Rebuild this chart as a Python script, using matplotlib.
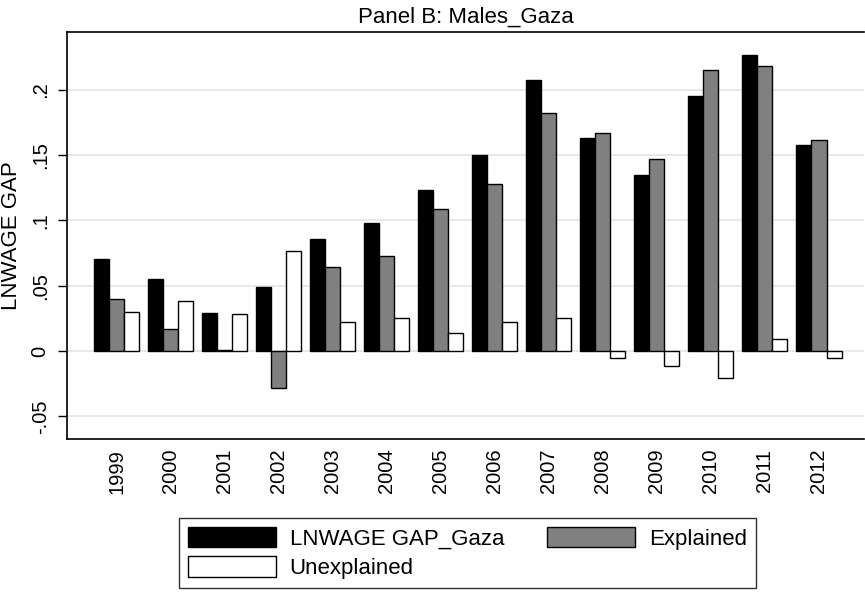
import numpy as np
import matplotlib.pyplot as plt

plt.rcParams['font.family'] = ['Liberation Sans', 'DejaVu Sans']

years = ['1999', '2000', '2001', '2002', '2003', '2004', '2005',
         '2006', '2007', '2008', '2009', '2010', '2011', '2012']
gap = [0.0705, 0.055, 0.029, 0.049, 0.086, 0.098, 0.123,
       0.150, 0.208, 0.163, 0.135, 0.195, 0.227, 0.158]
explained = [0.040, 0.017, 0.001, -0.028, 0.064, 0.073, 0.109,
             0.128, 0.182, 0.167, 0.147, 0.215, 0.218, 0.162]
unexplained = [0.030, 0.038, 0.028, 0.077, 0.022, 0.025, 0.014,
               0.022, 0.025, -0.005, -0.0115, -0.021, 0.009, -0.005]

fig = plt.figure(figsize=(8.65, 5.93), dpi=100)
ax = fig.add_axes([67 / 865, 1 - 439 / 593, (864 - 67) / 865, (439 - 32) / 593])

x = np.arange(len(years))
w = 0.278
ec = dict(edgecolor='black', linewidth=1.0)
b1 = ax.bar(x - w, gap, w, color='black', **ec, zorder=3)
b2 = ax.bar(x, explained, w, color='#808080', **ec, zorder=3)
b3 = ax.bar(x + w, unexplained, w, color='white', **ec, zorder=3)

ax.set_xlim(-0.917, 13.833)
ax.set_ylim(-0.0674, 0.2444)
ax.set_yticks([-0.05, 0, 0.05, 0.1, 0.15, 0.2])
ax.set_yticklabels(['-.05', '0', '.05', '.1', '.15', '.2'], rotation=90, va='center', fontsize=14.5)
ax.set_xticks(x)
ax.set_xticklabels(years, rotation=90, fontsize=14.5)
ax.tick_params(axis='x', length=0, pad=7)
ax.tick_params(axis='y', length=6.5, width=1, pad=6)
ax.grid(axis='y', color='#e4e4e4', linewidth=1.2, zorder=0)
for s in ax.spines.values():
    s.set_linewidth(1.2)
ax.spines['right'].set_visible(False)

ax.set_ylabel('LNWAGE GAP', fontsize=16, labelpad=6)
ax.set_title('Panel B: Males_Gaza', fontsize=16, pad=7)

leg = fig.legend([b1, b3, b2], ['LNWAGE GAP_Gaza', 'Unexplained', 'Explained'],
                 ncol=2, loc='upper center', bbox_to_anchor=(467.5 / 865, 1 - 518 / 593),
                 fontsize=16, frameon=True, fancybox=False, edgecolor='black',
                 handlelength=3.96, handleheight=1.04, handletextpad=0.6,
                 columnspacing=1.94, labelspacing=0.3, borderpad=0.4, borderaxespad=0)
leg.get_frame().set_linewidth(1.0)

plt.savefig('out.png', dpi=100)
